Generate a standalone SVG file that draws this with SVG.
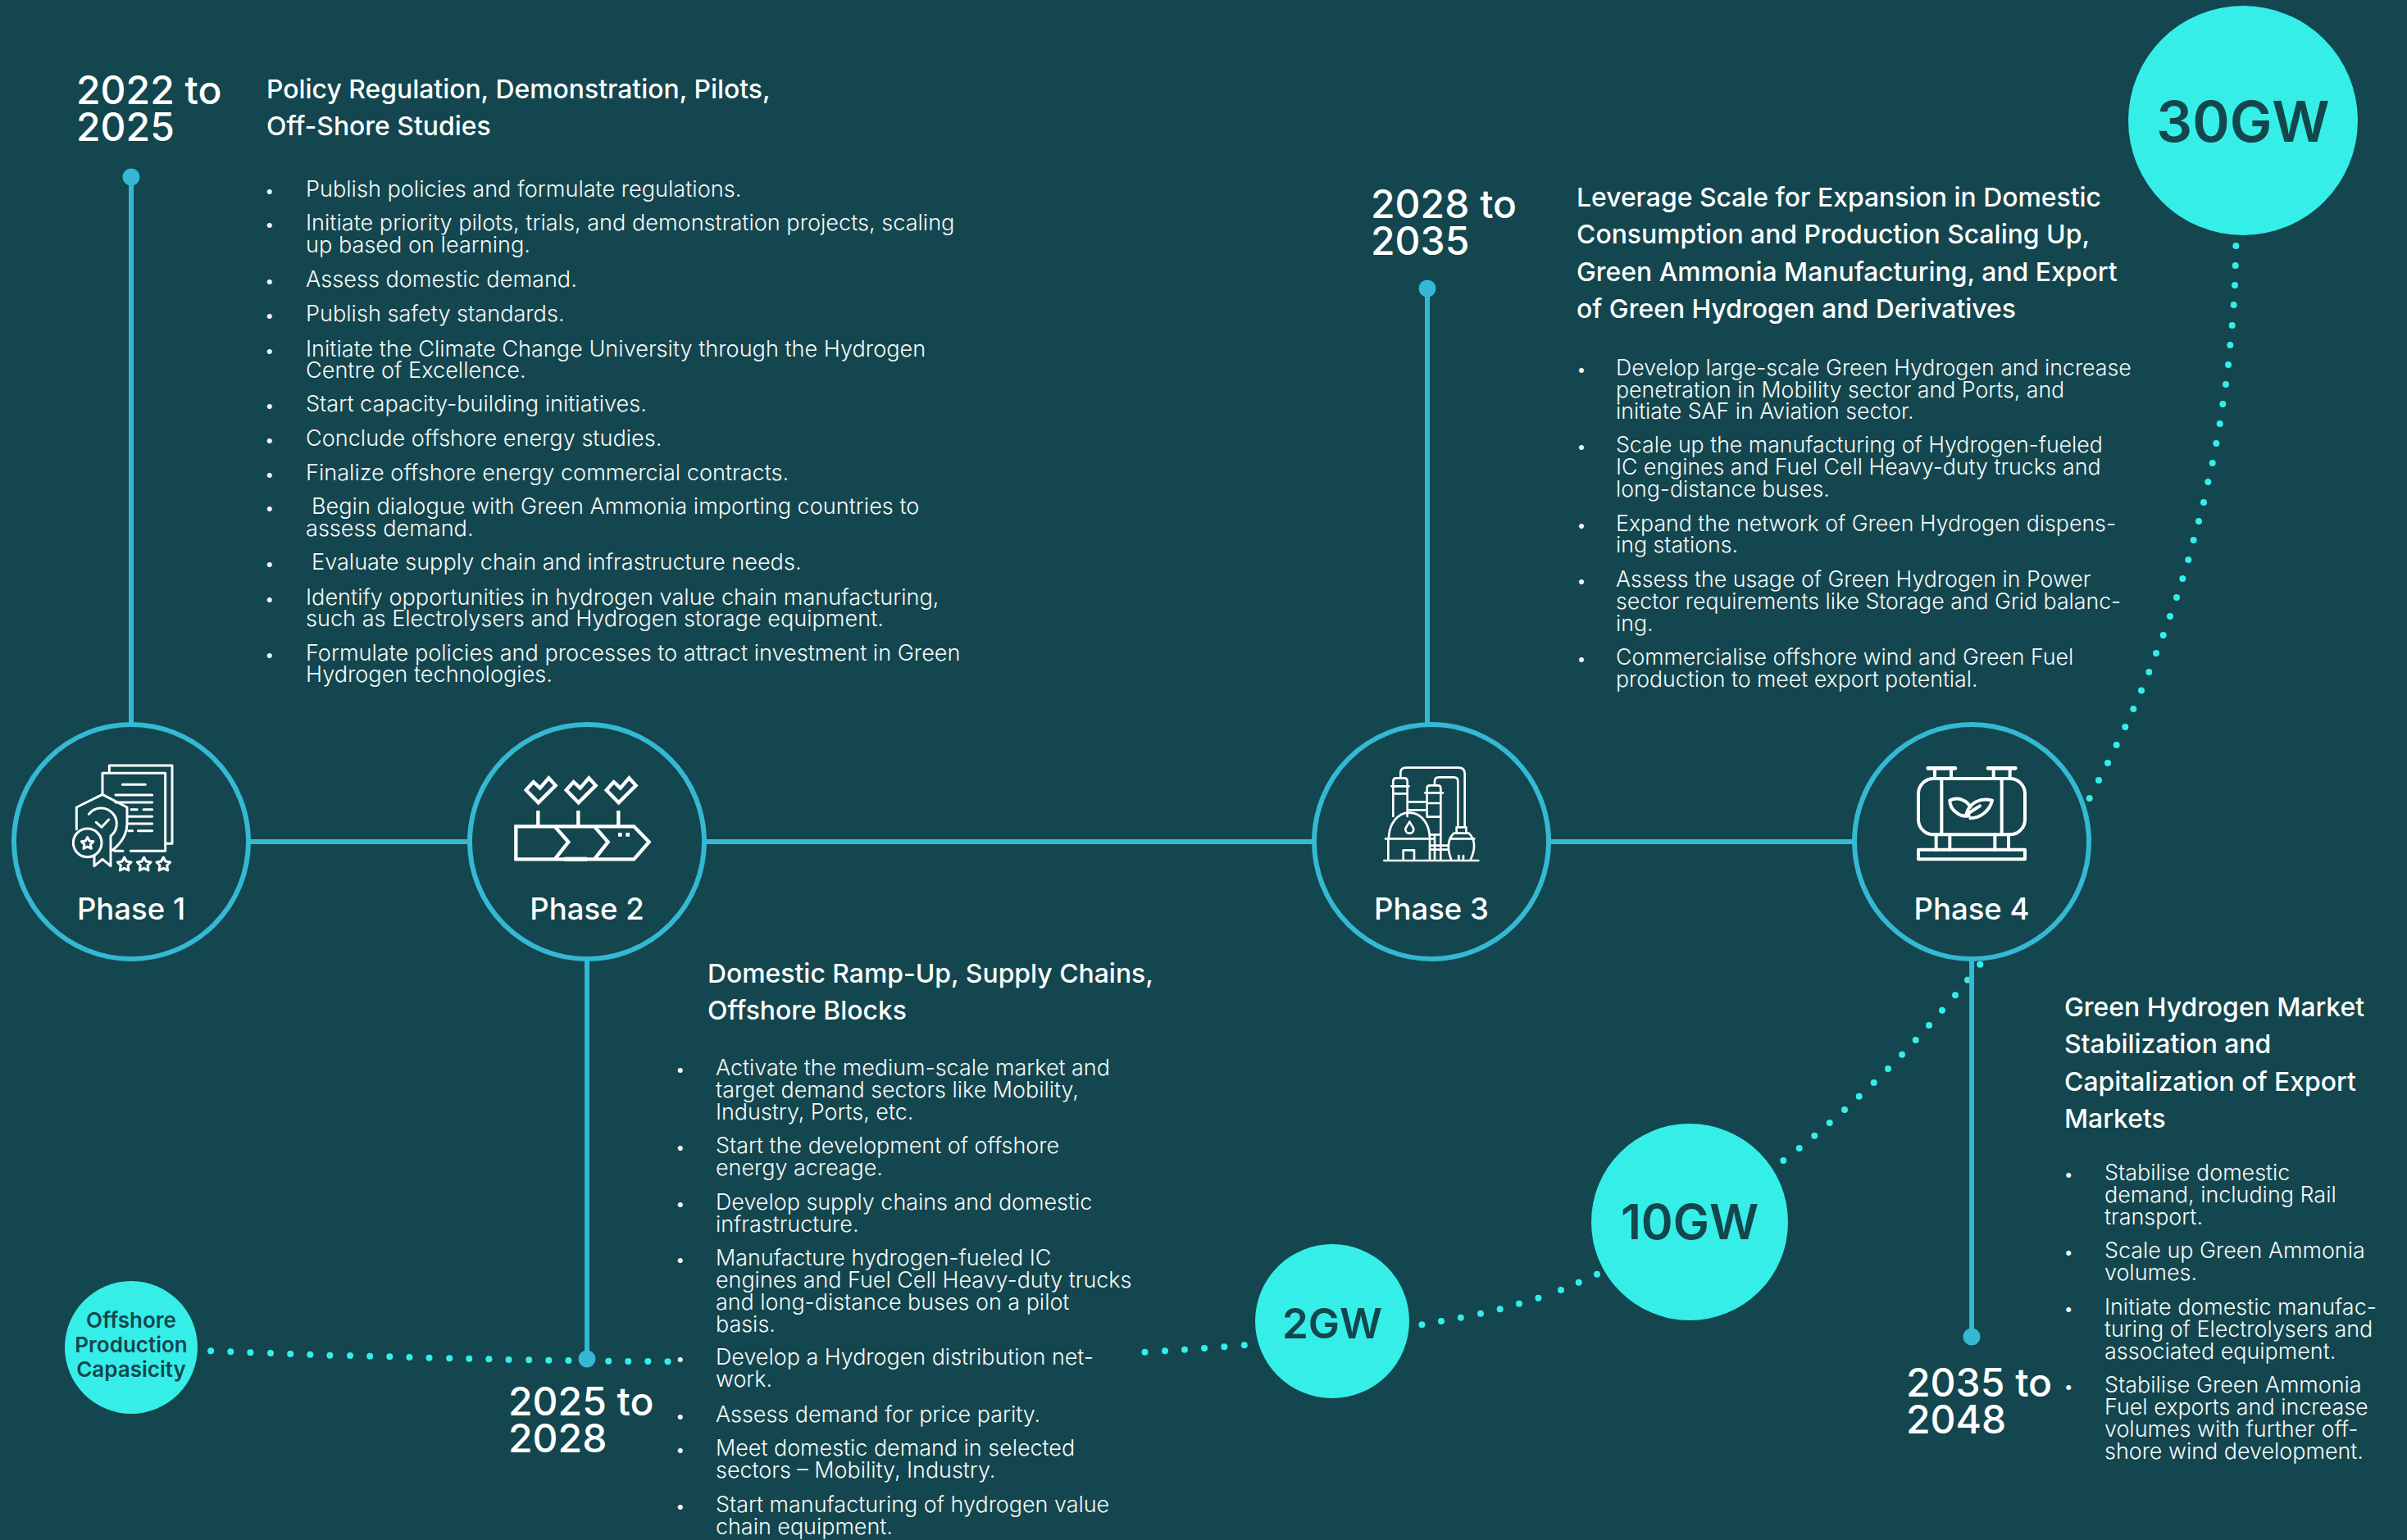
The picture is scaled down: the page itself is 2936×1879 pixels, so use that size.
<svg xmlns="http://www.w3.org/2000/svg" width="2936" height="1879" viewBox="0 0 2936 1879">
<style>
text{font-family:Inter,"Liberation Sans",sans-serif;fill:#fff}
.b{font-size:26.9px;font-weight:300;fill:#f6f9f9}
.u{font-size:22px;font-weight:300;fill:#f6f9f9}
.h{font-size:31.9px;font-weight:500}
.y{font-size:48px;font-weight:500}
.p{font-size:36.5px;font-weight:500;text-anchor:middle}
.c{fill:#35eee8}
.ct{fill:#14464e;font-weight:600;text-anchor:middle}
.ring{fill:#13464e;stroke:#35b8d4;stroke-width:6}
.ln{stroke:#35b8d4;stroke-width:6;fill:none}
.dot{fill:#35b8d4}
#dots circle{fill:#35eee8;r:4px}
.ic{fill:none;stroke:#fff;stroke-width:9;stroke-linecap:round;stroke-linejoin:round}
</style>
<rect width="2936" height="1879" fill="#13464e"/>
<g id="connectors">
<g id="dots">
<circle cx="257.1" cy="1648.3"/><circle cx="281.3" cy="1649.3"/><circle cx="305.4" cy="1650.3"/><circle cx="330" cy="1651"/><circle cx="354.2" cy="1652"/><circle cx="378.3" cy="1652.7"/><circle cx="402.4" cy="1653.7"/><circle cx="427" cy="1654"/><circle cx="451.2" cy="1654.7"/><circle cx="475.3" cy="1655.3"/><circle cx="499.4" cy="1656"/><circle cx="523.5" cy="1656.7"/><circle cx="548.2" cy="1657.3"/><circle cx="572.3" cy="1657.7"/><circle cx="596.4" cy="1658.3"/><circle cx="620.5" cy="1659"/><circle cx="645.2" cy="1659.3"/><circle cx="669.3" cy="1659.7"/><circle cx="693.4" cy="1660"/><circle cx="742.2" cy="1660.7"/><circle cx="766.3" cy="1661"/><circle cx="790.4" cy="1661"/><circle cx="814.5" cy="1661.3"/>
<circle cx="1396.5" cy="1649.7"/><circle cx="1421" cy="1648.3"/><circle cx="1445" cy="1646.7"/><circle cx="1469" cy="1645"/><circle cx="1493.3" cy="1643.3"/><circle cx="1517.8" cy="1641.3"/>
<circle cx="1734.4" cy="1616.3"/><circle cx="1758" cy="1612"/><circle cx="1781.8" cy="1607.7"/><circle cx="1806" cy="1602.7"/><circle cx="1829.7" cy="1597.3"/><circle cx="1853" cy="1590.7"/><circle cx="1876.4" cy="1583.7"/><circle cx="1904" cy="1574"/><circle cx="1925.7" cy="1564.7"/><circle cx="1948" cy="1554.7"/>
<circle cx="2175.3" cy="1416"/><circle cx="2194.7" cy="1401"/><circle cx="2213.3" cy="1385.7"/><circle cx="2231.7" cy="1370"/><circle cx="2250" cy="1354"/><circle cx="2267.7" cy="1337.7"/><circle cx="2285.7" cy="1321"/><circle cx="2303" cy="1304"/><circle cx="2320" cy="1286.7"/><circle cx="2336.7" cy="1269"/><circle cx="2353" cy="1251"/><circle cx="2369" cy="1232.7"/><circle cx="2385" cy="1214.3"/><circle cx="2400" cy="1195.7"/><circle cx="2415.3" cy="1176.7"/>
<circle cx="2727.3" cy="300"/><circle cx="2726.7" cy="324"/><circle cx="2726" cy="348"/><circle cx="2724.7" cy="372"/><circle cx="2722.7" cy="397"/><circle cx="2720.3" cy="421"/><circle cx="2718" cy="445"/><circle cx="2715" cy="469"/><circle cx="2711.3" cy="493"/><circle cx="2707.7" cy="517"/><circle cx="2703.3" cy="541"/><circle cx="2698.7" cy="565"/><circle cx="2693.3" cy="588"/><circle cx="2688" cy="613"/><circle cx="2682" cy="636"/><circle cx="2675.7" cy="659"/><circle cx="2669.3" cy="683"/><circle cx="2662.3" cy="706"/><circle cx="2655" cy="729"/><circle cx="2647" cy="752"/><circle cx="2638.7" cy="775"/><circle cx="2630" cy="797"/><circle cx="2621.3" cy="820"/><circle cx="2612" cy="842.5"/><circle cx="2602.3" cy="865"/><circle cx="2592.3" cy="887"/><circle cx="2581.7" cy="909"/><circle cx="2571" cy="931"/><circle cx="2560" cy="952"/><circle cx="2548.7" cy="974"/>
</g>
<path class="ln" d="M304 1027H2261M160 216V883M1741 352V883M716 1172V1658M2405 1172V1631"/>
<circle class="dot" cx="160" cy="216" r="10.5"/><circle class="dot" cx="1741" cy="352" r="10.5"/><circle class="dot" cx="716" cy="1658" r="10.5"/><circle class="dot" cx="2405" cy="1631" r="10.5"/>
</g>
<g id="phase1">
<circle class="ring" cx="160" cy="1027" r="143"/>
<g class="ic" transform="translate(60 910) scale(.3333)">
<path d="M220 98V72H450V358H430M195 178V100H425V385H298M270 385H240M268 142H352M243 180H377M243 207H377M300 233H322M345 233H377M290 259H377M290 285H377M290 311H305M325 311H377"/>
<path d="M100 305V225L195 178L285 225V285C285 320 265 355 232 382M145 250A57 57 0 1 1 225 330M172 280L192 298L218 270"/>
<circle cx="140" cy="355" r="52"/><path d="M140 335L147 348L162 350L151 361L154 376L140 369L126 376L129 361L118 350L133 348Z"/>
<path d="M165 400V440L195 415L225 440V335"/>
<path d="M275 408L283 423L300 426L288 438L291 456L275 448L259 456L262 438L250 426L267 423Z"/>
<path d="M347 408L355 423L372 426L360 438L363 456L347 448L331 456L334 438L322 426L339 423Z"/>
<path d="M418 408L426 423L443 426L431 438L434 456L418 448L402 456L405 438L393 426L410 423Z"/>
</g>
<text class="p" x="160" y="1122">Phase 1</text>
</g>
<g id="phase2">
<circle class="ring" cx="716" cy="1027" r="143"/>
<g class="ic" transform="translate(610 930) scale(.3333)" style="stroke-width:13;stroke-linecap:butt;stroke-linejoin:miter">
<path d="M95 102L122 72L146 95L178 58L203 85L140 148Z"/>
<path d="M242 102L269 72L293 95L325 58L350 85L287 148Z"/>
<path d="M389 102L416 72L440 95L472 58L497 85L434 148Z"/>
<path d="M139 177V235M286 177V235M433 177V235"/>
<path d="M58 235H490L545 292L490 355H58ZM200 235L250 292L200 355M345 235L395 292L345 355"/>
<path d="M235 355H318" style="stroke-width:16"/>
<path d="M432 265H446M460 265H474" style="stroke-width:14"/>
</g>
<text class="p" x="716" y="1122">Phase 2</text>
</g>
<g id="phase3">
<circle class="ring" cx="1746" cy="1027" r="143"/>
<g class="ic" transform="translate(1670 920) scale(.3333)" style="stroke-width:8">
<path d="M55 390H400M70 385V310M222 385V310M60 310H235M125 385V352H165V385"/>
<path d="M72 310C72 255 105 215 147 215C190 215 222 255 222 310M148 248C140 262 133 270 133 275A15 15 0 0 0 163 275C163 270 156 262 148 248Z"/>
<path d="M88 228V100Q88 88 100 88H128Q140 88 140 100V228M82 118H146M88 145H140M146 175H206M146 205H206"/>
<path d="M212 225V125Q212 115 222 115H252Q262 115 262 125V385M205 142H270M212 180H262M212 230H262M225 295H262M225 335H290M225 350H290M240 385V295"/>
<path d="M115 85V70Q115 50 135 50H328Q350 50 350 72V265M240 112V100Q240 85 255 85H310Q325 85 325 100V265"/>
<path d="M300 385C285 345 288 312 310 290H365C388 312 390 345 372 385M320 268H355M320 268V290M355 268V290M295 310H385M328 385V372M345 385V372"/>
</g>
<text class="p" x="1746" y="1122">Phase 3</text>
</g>
<g id="phase4">
<circle class="ring" cx="2405" cy="1027" r="143"/>
<g class="ic" transform="translate(2320 920) scale(.3333)" style="stroke-width:12">
<rect x="60" y="90" width="390" height="205" rx="55"/>
<path d="M145 90V295M365 90V295M120 52V90M180 52V90M335 52V90M395 52V90M125 295V350M175 295V350M340 295V350M390 295V350"/>
<path d="M95 52H195M315 52H415" style="stroke-width:14"/>
<rect x="60" y="350" width="390" height="35"/>
<path d="M245 225C215 235 175 205 175 170C205 155 240 170 250 195M250 235C285 235 320 210 330 170C290 160 245 175 235 222M235 222L285 190"/>
</g>
<text class="p" x="2405" y="1122">Phase 4</text>
</g>
<g id="offshore">
<circle class="c" cx="160" cy="1644" r="81"/>
<text class="ct" font-size="26" x="160" y="1620">Offshore</text>
<text class="ct" font-size="26" x="160" y="1650">Production</text>
<text class="ct" font-size="26" x="160" y="1680">Capasicity</text>
</g>
<g id="gw2"><circle class="c" cx="1625" cy="1612" r="94"/><text class="ct" font-size="51" x="1625" y="1633">2GW</text></g>
<g id="gw10"><circle class="c" cx="2061" cy="1491" r="120"/><text class="ct" font-size="59" x="2061" y="1512">10GW</text></g>
<g id="gw30"><circle class="c" cx="2736" cy="147" r="140"/><text class="ct" font-size="69" x="2736" y="173">30GW</text></g>
<g id="years">
<text class="y" x="93" y="127">2022 to</text><text class="y" x="93" y="172">2025</text>
<text class="y" x="620" y="1727">2025 to</text><text class="y" x="620" y="1772">2028</text>
<text class="y" x="1672" y="266">2028 to</text><text class="y" x="1672" y="311">2035</text>
<text class="y" x="2325" y="1704">2035 to</text><text class="y" x="2325" y="1749">2048</text>
</g>
<g id="text1">
<text class="h" x="325" y="120">Policy Regulation, Demonstration, Pilots,</text>
<text class="h" x="325" y="165">Off-Shore Studies</text>
<text class="u" x="322.5" y="240">•</text><text class="b" x="373" y="240" style="font-size:27.1px">Publish policies and formulate regulations.</text>
<text class="u" x="322.5" y="281">•</text><text class="b" x="373" y="281" style="font-size:27.1px">Initiate priority pilots, trials, and demonstration projects, scaling</text>
<text class="b" x="373" y="308" style="font-size:27.1px">up based on learning.</text>
<text class="u" x="322.5" y="350">•</text><text class="b" x="373" y="350" style="font-size:27.1px">Assess domestic demand.</text>
<text class="u" x="322.5" y="392">•</text><text class="b" x="373" y="392" style="font-size:27.1px">Publish safety standards.</text>
<text class="u" x="322.5" y="435">•</text><text class="b" x="373" y="435" style="font-size:27.1px">Initiate the Climate Change University through the Hydrogen</text>
<text class="b" x="373" y="461" style="font-size:27.1px">Centre of Excellence.</text>
<text class="u" x="322.5" y="502">•</text><text class="b" x="373" y="502" style="font-size:27.1px">Start capacity-building initiatives.</text>
<text class="u" x="322.5" y="544">•</text><text class="b" x="373" y="544" style="font-size:27.1px">Conclude offshore energy studies.</text>
<text class="u" x="322.5" y="586">•</text><text class="b" x="373" y="586" style="font-size:27.1px">Finalize offshore energy commercial contracts.</text>
<text class="u" x="322.5" y="627">•</text><text class="b" x="380" y="627" style="font-size:27.1px">Begin dialogue with Green Ammonia importing countries to</text>
<text class="b" x="373" y="654" style="font-size:27.1px">assess demand.</text>
<text class="u" x="322.5" y="695">•</text><text class="b" x="380" y="695" style="font-size:27.1px">Evaluate supply chain and infrastructure needs.</text>
<text class="u" x="322.5" y="738">•</text><text class="b" x="373" y="738" style="font-size:27.1px">Identify opportunities in hydrogen value chain manufacturing,</text>
<text class="b" x="373" y="764" style="font-size:27.1px">such as Electrolysers and Hydrogen storage equipment.</text>
<text class="u" x="322.5" y="806">•</text><text class="b" x="373" y="806" style="font-size:27.1px">Formulate policies and processes to attract investment in Green</text>
<text class="b" x="373" y="832" style="font-size:27.1px">Hydrogen technologies.</text>
</g>
<g id="text2">
<text class="h" x="863" y="1199">Domestic Ramp-Up, Supply Chains,</text>
<text class="h" x="863" y="1244">Offshore Blocks</text>
<text class="u" x="823.5" y="1312">•</text><text class="b" x="873" y="1312">Activate the medium-scale market and</text>
<text class="b" x="873" y="1339">target demand sectors like Mobility,</text>
<text class="b" x="873" y="1366">Industry, Ports, etc.</text>
<text class="u" x="823.5" y="1407">•</text><text class="b" x="873" y="1407">Start the development of offshore</text>
<text class="b" x="873" y="1434">energy acreage.</text>
<text class="u" x="823.5" y="1476">•</text><text class="b" x="873" y="1476">Develop supply chains and domestic</text>
<text class="b" x="873" y="1503">infrastructure.</text>
<text class="u" x="823.5" y="1544">•</text><text class="b" x="873" y="1544">Manufacture hydrogen-fueled IC</text>
<text class="b" x="873" y="1571">engines and Fuel Cell Heavy-duty trucks</text>
<text class="b" x="873" y="1598">and long-distance buses on a pilot</text>
<text class="b" x="873" y="1625">basis.</text>
<text class="u" x="823.5" y="1665">•</text><text class="b" x="873" y="1665">Develop a Hydrogen distribution net-</text>
<text class="b" x="873" y="1692">work.</text>
<text class="u" x="823.5" y="1735">•</text><text class="b" x="873" y="1735">Assess demand for price parity.</text>
<text class="u" x="823.5" y="1776">•</text><text class="b" x="873" y="1776">Meet domestic demand in selected</text>
<text class="b" x="873" y="1803">sectors – Mobility, Industry.</text>
<text class="u" x="823.5" y="1845">•</text><text class="b" x="873" y="1845">Start manufacturing of hydrogen value</text>
<text class="b" x="873" y="1872">chain equipment.</text>
</g>
<g id="text3">
<text class="h" x="1923" y="252">Leverage Scale for Expansion in Domestic</text>
<text class="h" x="1923" y="297">Consumption and Production Scaling Up,</text>
<text class="h" x="1923" y="343">Green Ammonia Manufacturing, and Export</text>
<text class="h" x="1923" y="388">of Green Hydrogen and Derivatives</text>
<text class="u" x="1922.7" y="458">•</text><text class="b" x="1971" y="458" style="font-size:26.7px">Develop large-scale Green Hydrogen and increase</text>
<text class="b" x="1971" y="485" style="font-size:26.7px">penetration in Mobility sector and Ports, and</text>
<text class="b" x="1971" y="511" style="font-size:26.7px">initiate SAF in Aviation sector.</text>
<text class="u" x="1922.7" y="552">•</text><text class="b" x="1971" y="552" style="font-size:26.7px">Scale up the manufacturing of Hydrogen-fueled</text>
<text class="b" x="1971" y="579" style="font-size:26.7px">IC engines and Fuel Cell Heavy-duty trucks and</text>
<text class="b" x="1971" y="606" style="font-size:26.7px">long-distance buses.</text>
<text class="u" x="1922.7" y="648">•</text><text class="b" x="1971" y="648" style="font-size:26.7px">Expand the network of Green Hydrogen dispens-</text>
<text class="b" x="1971" y="674" style="font-size:26.7px">ing stations.</text>
<text class="u" x="1922.7" y="716">•</text><text class="b" x="1971" y="716" style="font-size:26.7px">Assess the usage of Green Hydrogen in Power</text>
<text class="b" x="1971" y="743" style="font-size:26.7px">sector requirements like Storage and Grid balanc-</text>
<text class="b" x="1971" y="770" style="font-size:26.7px">ing.</text>
<text class="u" x="1922.7" y="811">•</text><text class="b" x="1971" y="811" style="font-size:26.7px">Commercialise offshore wind and Green Fuel</text>
<text class="b" x="1971" y="838" style="font-size:26.7px">production to meet export potential.</text>
</g>
<g id="text4">
<text class="h" x="2518" y="1240">Green Hydrogen Market</text>
<text class="h" x="2518" y="1285">Stabilization and</text>
<text class="h" x="2518" y="1331">Capitalization of Export</text>
<text class="h" x="2518" y="1376">Markets</text>
<text class="u" x="2517" y="1440">•</text><text class="b" x="2567" y="1440">Stabilise domestic</text>
<text class="b" x="2567" y="1467">demand, including Rail</text>
<text class="b" x="2567" y="1494">transport.</text>
<text class="u" x="2517" y="1535">•</text><text class="b" x="2567" y="1535">Scale up Green Ammonia</text>
<text class="b" x="2567" y="1562">volumes.</text>
<text class="u" x="2517" y="1604">•</text><text class="b" x="2567" y="1604">Initiate domestic manufac-</text>
<text class="b" x="2567" y="1631">turing of Electrolysers and</text>
<text class="b" x="2567" y="1658">associated equipment.</text>
<text class="u" x="2517" y="1699">•</text><text class="b" x="2567" y="1699">Stabilise Green Ammonia</text>
<text class="b" x="2567" y="1726">Fuel exports and increase</text>
<text class="b" x="2567" y="1753">volumes with further off-</text>
<text class="b" x="2567" y="1780">shore wind development.</text>
</g>
</svg>
